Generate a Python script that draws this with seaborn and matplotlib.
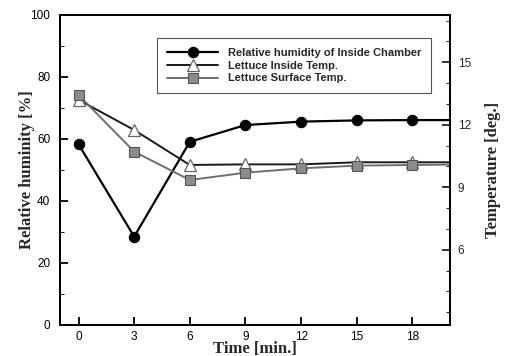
import matplotlib
matplotlib.use("Agg")
import matplotlib.pyplot as plt
from matplotlib.ticker import MultipleLocator
import seaborn as sns
import pandas as pd

# Sampling times [min]; the last sample lies past the right edge of the frame
time_min = [0, 3, 6, 9, 12, 15, 18, 21]
# Relative humidity inside the chamber [%]
humidity = [58.3, 28.5, 59.1, 64.5, 65.6, 66.0, 66.1, 66.1]
# Lettuce temperatures [deg.]
lettuce_inside = [13.2, 11.75, 10.07, 10.1, 10.1, 10.2, 10.2, 10.2]
lettuce_surface = [13.43, 10.71, 9.35, 9.70, 9.91, 10.04, 10.07, 10.1]

x_ticks = [0, 3, 6, 9, 12, 15, 18]
rh_ticks = [0, 20, 40, 60, 80, 100]
temp_ticks = [6, 9, 12, 15]

df = pd.DataFrame({
    "time": time_min,
    "rh": humidity,
    "t_in": lettuce_inside,
    "t_surf": lettuce_surface,
})

sns.set_style("ticks")
plt.rcParams["font.family"] = ["Liberation Sans", "DejaVu Sans"]

fig = plt.figure(figsize=(5.05, 3.56), dpi=100)
ax = fig.add_axes([0.1188, 0.0871, 0.7713, 0.8708])
ax2 = ax.twinx()

sns.lineplot(data=df, x="time", y="rh", ax=ax, color="black", lw=1.6,
             marker="o", markersize=7.5, markerfacecolor="black",
             markeredgecolor="black", label="Relative humidity of Inside Chamber",
             legend=False)
sns.lineplot(data=df, x="time", y="t_in", ax=ax2, color="#1a1a1a", lw=1.4,
             marker="^", markersize=8.5, markerfacecolor="white",
             markeredgecolor="#666666", markeredgewidth=0.9,
             label="Lettuce Inside Temp.", legend=False)
sns.lineplot(data=df, x="time", y="t_surf", ax=ax2, color="#6e6e6e", lw=1.4,
             marker="s", markersize=6.5, markerfacecolor="#8c8c8c",
             markeredgecolor="#555555", markeredgewidth=0.8,
             label="Lettuce Surface Temp.", legend=False)

ax.set_xlim(-1, 20)
ax.set_ylim(0, 100)
ax2.set_ylim(2.39, 17.27)

ax.set_xticks(x_ticks)
ax.set_yticks(rh_ticks)
ax.yaxis.set_minor_locator(MultipleLocator(10))
ax2.set_yticks(temp_ticks)
ax2.yaxis.set_minor_locator(MultipleLocator(1))

for a in (ax, ax2):
    for s in a.spines.values():
        s.set_visible(True)
        s.set_linewidth(1.4)
        s.set_color("black")

ax.tick_params(axis="both", which="major", direction="in", length=6,
               width=1.3, labelsize=8.5, colors="black")
ax.tick_params(axis="y", which="major", pad=7)
ax.tick_params(axis="x", which="major", pad=4)
ax.tick_params(axis="y", which="minor", direction="in", length=3, width=0.8)
ax.tick_params(axis="x", which="both", top=False)
ax2.tick_params(axis="y", which="major", direction="in", length=6,
                width=1.3, labelsize=8.5, pad=6)
ax2.tick_params(axis="y", which="minor", direction="in", length=3, width=0.8)

label_font = dict(family=["Liberation Serif", "DejaVu Serif"],
                  fontweight="bold", fontsize=12)
ax.set_xlabel("Time [min.]", labelpad=-1, **label_font)
ax.set_ylabel("Relative huminity [%]", labelpad=-3, **label_font)
ax2.set_ylabel("Temperature [deg.]", labelpad=10, **label_font)

handles = ax.get_lines()[:1] + ax2.get_lines()[:2]
leg = ax2.legend(handles=handles,
                 labels=[h.get_label() for h in handles],
                 loc="upper left", bbox_to_anchor=(0.249, 0.926),
                 borderaxespad=0,
                 frameon=True, fancybox=False, edgecolor="#555555",
                 framealpha=1, handlelength=4.6, handletextpad=0.9,
                 labelspacing=0.25, borderpad=0.9,
                 prop=dict(family=["Liberation Sans", "DejaVu Sans"],
                           weight="bold", size=8))
leg.get_frame().set_linewidth(0.8)

fig.savefig("out.png", dpi=100)
